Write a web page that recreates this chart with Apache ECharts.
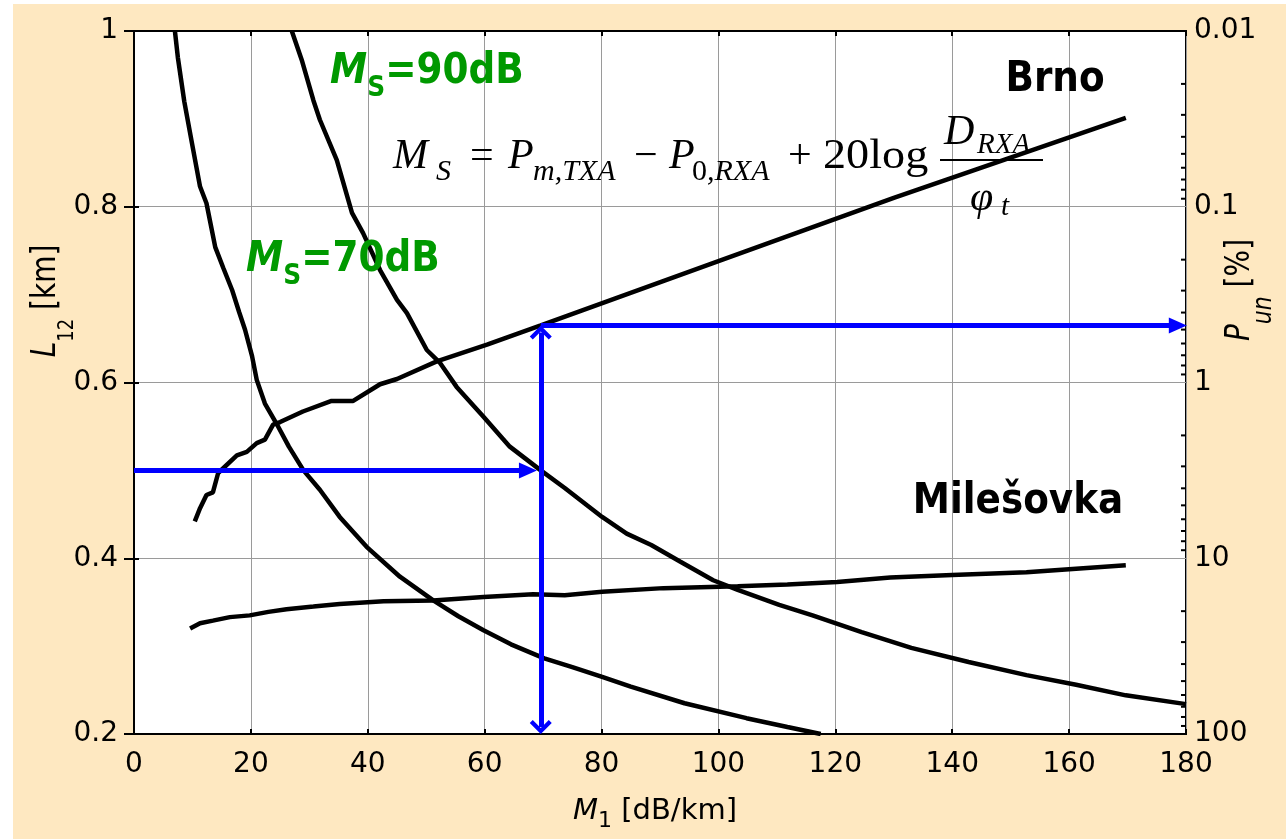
<!DOCTYPE html>
<html><head><meta charset="utf-8">
<script src="https://cdn.jsdelivr.net/npm/echarts/dist/echarts.min.js"></script>
<style>
html,body{margin:0;padding:0;background:#fff;}
#bg{position:absolute;left:13px;top:4px;width:1273px;height:835px;background:#FEE8C1;}
#chart{position:absolute;left:0;top:0;width:1286px;height:839px;}
</style></head><body>
<div id="bg"></div><div id="chart"></div>
<script>
// ---- axes ----
const xRange = [0, 180];
const xStep = 20;
const leftRange = [0.2, 1.0];
const leftStep = 0.2;
const rightRange = [0.01, 100];
const rightMinorTicks = [0.02,0.03,0.04,0.05,0.06,0.07,0.08,0.09,
  0.2,0.3,0.4,0.5,0.6,0.7,0.8,0.9, 2,3,4,5,6,7,8,9, 20,30,40,50,60,70,80,90];

// ---- curves [M1 dB/km, L12 km] ----
const ms70 = [[7.0,1.0],[7.5,0.97],[8.6,0.92],[9.9,0.873],[11.3,0.823],[12.4,0.804],[13.9,0.754],
  [15.3,0.73],[16.8,0.705],[18.0,0.68],[19.0,0.66],[20.2,0.63],[21.0,0.603],[22.4,0.576],[24.4,0.553],
  [26.5,0.527],[29.0,0.500],[31.8,0.478],[35.2,0.447],[39.8,0.413],[45.5,0.379],[51.2,0.352],
  [55.5,0.334],[59.8,0.318],[64.5,0.302],[70.2,0.286],[75.0,0.276],[80.1,0.265],[85.0,0.254],
  [94.2,0.235],[104.8,0.218],[111.8,0.208],[117.5,0.2]];
const ms90 = [[27.0,1.0],[28.7,0.967],[30.7,0.921],[31.8,0.899],[34.7,0.853],[37.3,0.793],[39.2,0.770],
  [42.1,0.728],[45.0,0.694],[46.7,0.679],[50.1,0.637],[52.4,0.622],[55.2,0.595],[59.8,0.561],
  [64.3,0.527],[69.6,0.500],[73.7,0.480],[80.1,0.447],[84.3,0.428],[88.5,0.415],[93.5,0.396],
  [99.1,0.375],[103.3,0.364],[110.4,0.347],[116.1,0.335],[124.5,0.316],[133.0,0.298],[142.8,0.282],
  [152.7,0.267],[161.2,0.256],[169.7,0.244],[180.0,0.234]];
const brno = [[10.4,0.442],[11.3,0.457],[12.4,0.472],[13.5,0.475],[14.4,0.497],[17.6,0.517],[19.3,0.521],
  [21.0,0.531],[22.4,0.535],[23.8,0.552],[25.0,0.555],[28.9,0.567],[33.8,0.579],[37.5,0.579],
  [42.1,0.598],[45.0,0.604],[51.8,0.624],[60.4,0.643],[69.6,0.665],[100.0,0.738],[130.0,0.81],[169.7,0.901]];
const milesovka = [[9.6,0.320],[11.3,0.326],[13.5,0.329],[16.4,0.333],[19.8,0.335],[23.0,0.339],[26.1,0.342],
  [30.7,0.345],[35.2,0.348],[42.7,0.351],[51.2,0.352],[59.8,0.356],[68.3,0.359],[73.7,0.358],[80.1,0.362],
  [90.6,0.366],[103.3,0.368],[111.8,0.370],[120.3,0.373],[129.4,0.378],[140.0,0.381],[152.7,0.384],
  [161.2,0.388],[169.7,0.392]];

// ---- blue arrows (data units) ----
const arrowIn = [[0, 0.5], [67.4, 0.5]];
const arrowDown = [[69.6, 0.657], [69.6, 0.208]];
const arrowOut = [[69.6, 0.665], [178.6, 0.665]];

const sans = 'DejaVu Sans';
const serif = 'Liberation Serif';
const green = '#009900';
const blue = '#0000FF';
const chevron = 'path://M11,0 L22,11 L19,14 L11,6 L3,14 L0,11 Z';

function T(text, x, y, font, extra) {
  return Object.assign({
    type: 'text', x: x, y: y, z: 100, silent: true,
    style: Object.assign({ text: text, x: 0, y: 0, font: font, fill: '#000',
      textAlign: 'left', align: 'left', textVerticalAlign: 'middle', verticalAlign: 'middle' }, (extra && extra.style) || {})
  }, (extra && extra.el) || {});
}

const chart = echarts.init(document.getElementById('chart'), null, { renderer: 'canvas' });

const blackLine = (name, data) => ({
  type: 'line', name: name, data: data, showSymbol: false, symbol: 'none',
  lineStyle: { color: '#000', width: 4.5 }, animation: false, z: 3, silent: true
});

const greenRich = {
  m: { font: 'italic bold 42px ' + sans, fill: green },
  s: { font: 'bold 28px ' + sans, fill: green, padding: [34, 0, 0, 0] },
  t: { font: 'bold 42px ' + sans, fill: green }
};

const option = {
  animation: false,
  backgroundColor: 'transparent',
  grid: { left: 134, right: 100, top: 31, bottom: 105, show: true, backgroundColor: '#fff',
    borderColor: '#000', borderWidth: 2, containLabel: false, outerBoundsMode: 'none' },
  xAxis: [{
    type: 'value', min: xRange[0], max: xRange[1], interval: xStep, position: 'bottom',
    axisLine: { show: true, lineStyle: { color: '#000', width: 2 } },
    axisTick: { show: true, inside: true, length: 5, lineStyle: { color: '#000', width: 2 } },
    axisLabel: { color: '#000', fontFamily: sans, fontSize: 28, margin: 17 },
    splitLine: { show: true, lineStyle: { color: '#9a9a9a', width: 1 } }
  }, {
    type: 'value', min: xRange[0], max: xRange[1], interval: xStep, position: 'top',
    axisLine: { show: true, lineStyle: { color: '#000', width: 2 } },
    axisTick: { show: true, inside: true, length: 5, lineStyle: { color: '#000', width: 2 } },
    axisLabel: { show: false }, splitLine: { show: false }
  }],
  yAxis: [{
    type: 'value', min: leftRange[0], max: leftRange[1], interval: leftStep, position: 'left',
    axisLine: { show: true, lineStyle: { color: '#000', width: 2 } },
    axisTick: { show: true, inside: true, length: 5, lineStyle: { color: '#000', width: 2 } },
    axisLabel: { color: '#000', fontFamily: sans, fontSize: 28, margin: 16,
      formatter: v => String(+(+v).toFixed(1)) },
    splitLine: { show: true, lineStyle: { color: '#9a9a9a', width: 1 } }
  }, {
    type: 'log', logBase: 10, min: rightRange[0], max: rightRange[1], inverse: true, position: 'right',
    axisLine: { show: true, lineStyle: { color: '#000', width: 2 } },
    axisTick: { show: true, inside: true, length: 10, lineStyle: { color: '#000', width: 2 } },
    axisLabel: { color: '#000', fontFamily: sans, fontSize: 28, margin: 8,
      formatter: v => String(+(+v).toPrecision(2)) },
    splitLine: { show: false }
  }],
  series: [
    blackLine('MS=70dB', ms70),
    blackLine('MS=90dB', ms90),
    blackLine('Brno', brno),
    blackLine('Milešovka', milesovka),
    {
      type: 'line', name: 'arrows', data: [], silent: true, animation: false, z: 4,
      markLine: {
        silent: true, animation: false, symbol: ['none', 'triangle'], symbolSize: [16, 18],
        label: { show: false }, emphasis: { disabled: true },
        lineStyle: { color: blue, width: 5, type: 'solid' },
        data: [
          [{ coord: arrowIn[0] }, { coord: arrowIn[1] }],
          [{ coord: arrowDown[0], symbol: chevron, symbolSize: [22, 14] },
           { coord: arrowDown[1], symbol: chevron, symbolSize: [22, 14] }],
          [{ coord: arrowOut[0] }, { coord: arrowOut[1] }]
        ]
      }
    },
    {
      type: 'custom', name: 'minorTicks', xAxisIndex: 0, yAxisIndex: 1, silent: true, clip: false, z: 5,
      data: rightMinorTicks.map(v => [xRange[1], v]),
      renderItem: function (params, api) {
        const p = api.coord([api.value(0), api.value(1)]);
        return { type: 'line', shape: { x1: p[0] - 5, y1: p[1], x2: p[0], y2: p[1] },
          style: { stroke: '#000', lineWidth: 2 } };
      }
    }
  ],
  graphic: { elements: [
    // formula
    T('M', 393, 157, 'italic 42px ' + serif),
    T('S', 436, 172, 'italic 30px ' + serif),
    T('=', 470, 157, '42px ' + serif),
    T('P', 508, 157, 'italic 42px ' + serif),
    T('m,TXA', 533, 172, 'italic 30px ' + serif),
    T('\u2212', 634, 157, '42px ' + serif),
    T('P', 669, 157, 'italic 42px ' + serif),
    T('0', 692, 172, '30px ' + serif),
    T(',RXA', 707, 172, 'italic 30px ' + serif),
    T('+', 788, 157, '42px ' + serif),
    T('20log', 823, 157, '42px ' + serif, { el: { scaleX: 1.1 } }),
    { type: 'line', z: 100, silent: true, shape: { x1: 940, y1: 160, x2: 1043, y2: 160 },
      style: { stroke: '#000', lineWidth: 2 } },
    T('D', 944, 133, 'italic 42px ' + serif),
    T('RXA', 977, 145, 'italic 29px ' + serif),
    T('\u03C6', 970, 199, 'italic 42px ' + serif),
    T('t', 1001, 207, 'italic 29px ' + serif),
    // station labels
    T('Brno', 1055, 80, 'bold 42px ' + sans, { el: { scaleX: 0.89 }, style: { textAlign: 'center', align: 'center' } }),
    T('Milešovka', 1018, 502, 'bold 42px ' + sans, { el: { scaleX: 0.89 }, style: { textAlign: 'center', align: 'center' } }),
    // green labels
    T('{m|M}{s|S}{t|=90dB}', 330, 72, 'bold 42px ' + sans, { el: { scaleX: 0.89 }, style: { rich: greenRich, fill: green } }),
    T('{m|M}{s|S}{t|=70dB}', 246, 260, 'bold 42px ' + sans, { el: { scaleX: 0.89 }, style: { rich: greenRich, fill: green } }),
    // axis titles
    T('{i|M}{s|1}{n| [dB/km]}', 655, 811, '29px ' + sans, { style: { textAlign: 'center', align: 'center', rich: {
      i: { font: 'italic 29px ' + sans, fill: '#000' },
      s: { font: '22px ' + sans, fill: '#000', padding: [20, 0, 0, 0] },
      n: { font: '29px ' + sans, fill: '#000' } } } }),
    T('{i|L}{s|12}{n| [km]}', 46, 301, '28px ' + sans, { el: { rotation: Math.PI / 2, scaleY: 1.2 },
      style: { textAlign: 'center', align: 'center', rich: {
      i: { font: 'italic 28px ' + sans, fill: '#000' },
      s: { font: '18px ' + sans, fill: '#000', padding: [36, 0, 0, 0] },
      n: { font: '28px ' + sans, fill: '#000' } } } }),
    T('{i|P}{s|un}{n| [%]}', 1240, 290, '28px ' + sans, { el: { rotation: Math.PI / 2, scaleY: 1.2 },
      style: { textAlign: 'center', align: 'center', rich: {
      i: { font: 'italic 28px ' + sans, fill: '#000' },
      s: { font: 'italic 22px ' + sans, fill: '#000', padding: [40, 0, 0, 0] },
      n: { font: '28px ' + sans, fill: '#000' } } } })
  ] }
};
chart.setOption(option);
</script>
</body></html>
